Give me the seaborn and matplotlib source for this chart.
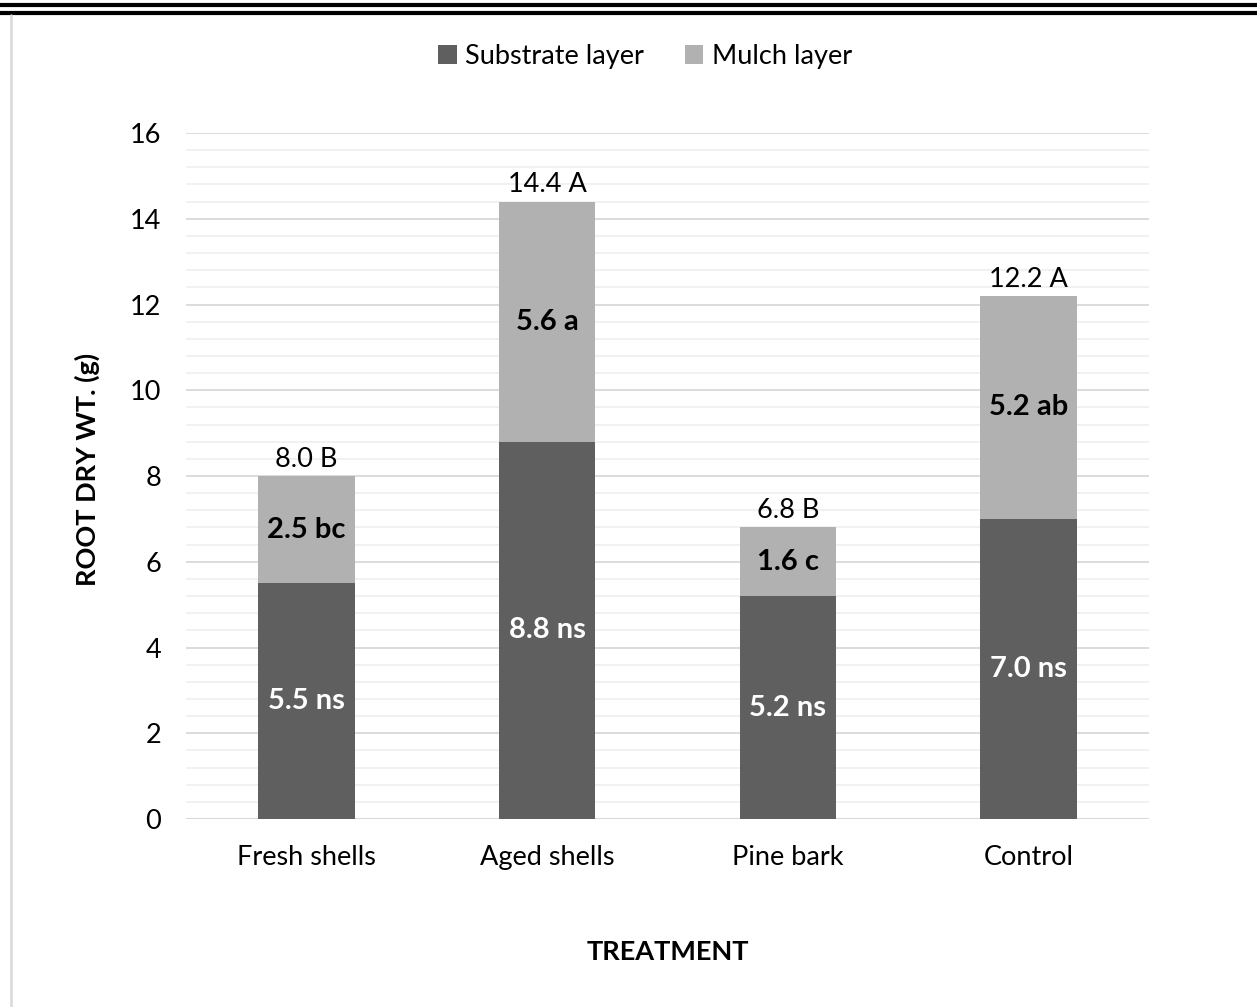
import matplotlib
matplotlib.use("Agg")
import matplotlib.pyplot as plt
from matplotlib.lines import Line2D
from matplotlib.patches import Patch
from matplotlib.ticker import MultipleLocator
import seaborn as sns
import pandas as pd

treatments = ["Fresh shells", "Aged shells", "Pine bark", "Control"]
substrate = [5.5, 8.8, 5.2, 7.0]
mulch = [2.5, 5.6, 1.6, 5.2]
totals = [8.0, 14.4, 6.8, 12.2]
substrate_labels = ["5.5 ns", "8.8 ns", "5.2 ns", "7.0 ns"]
mulch_labels = ["2.5 bc", "5.6 a", "1.6 c", "5.2 ab"]
total_labels = ["8.0 B", "14.4 A", "6.8 B", "12.2 A"]

dark = "#5f5f5f"
light = "#b1b1b1"

sns.set_theme(style="white")
plt.rcParams["font.family"] = ["Lato", "DejaVu Sans"]
plt.rcParams["text.color"] = "black"
plt.rcParams["axes.labelcolor"] = "black"

df = pd.DataFrame({"treatment": treatments, "substrate": substrate,
                   "mulch": mulch, "total": totals})

fig = plt.figure(figsize=(12.57, 10.07), dpi=100)
ax = fig.add_axes([0.148, 0.1867, 0.766, 0.6812])

# full stack height in the mulch colour, substrate drawn over it
sns.barplot(data=df, x="treatment", y="total", color=light, width=0.4,
            saturation=1, linewidth=0, ax=ax, zorder=3)
sns.barplot(data=df, x="treatment", y="substrate", color=dark, width=0.4,
            saturation=1, linewidth=0, ax=ax, zorder=4)

ax.set_xlim(-0.5, 3.5)
ax.set_ylim(0, 16)
ax.yaxis.set_major_locator(MultipleLocator(2))
ax.yaxis.set_minor_locator(MultipleLocator(0.4))
ax.grid(axis="y", which="major", color="#d9d9d9", linewidth=1.3, zorder=0)
ax.grid(axis="y", which="minor", color="#f0f0f0", linewidth=1.3, zorder=0)
ax.set_axisbelow(True)
for s in ax.spines.values():
    s.set_visible(False)
ax.axhline(0, color="#d9d9d9", linewidth=1.5, zorder=1)
ax.tick_params(axis="both", which="both", length=0, labelsize=19.5, colors="black")
ax.tick_params(axis="y", pad=18)
ax.tick_params(axis="x", pad=19)

ax.set_xlabel("TREATMENT", fontsize=19.5, fontweight="bold", color="black")
ax.set_ylabel("ROOT DRY WT. (g)", fontsize=19.5, fontweight="bold", color="black")
ax.xaxis.set_label_coords(0.5, -0.176)
ax.yaxis.set_label_coords(-0.089, 0.51)

for i in range(len(treatments)):
    ax.text(i, substrate[i] / 2, substrate_labels[i], ha="center", va="center",
            color="white", fontsize=21, fontweight="bold", zorder=5)
    ax.text(i, substrate[i] + mulch[i] / 2, mulch_labels[i], ha="center",
            va="center", color="black", fontsize=21, fontweight="bold", zorder=5)
    ax.annotate(total_labels[i], (i, totals[i]), xytext=(0, 3),
                textcoords="offset points", ha="center", va="bottom",
                fontsize=19.5, color="black", zorder=5)

handles = [Patch(facecolor=dark, edgecolor="none"),
           Patch(facecolor=light, edgecolor="none")]
fig.legend(handles, ["Substrate layer", "Mulch layer"], loc="center",
           bbox_to_anchor=(0.513, 0.944), ncol=2, frameon=False, fontsize=19.5,
           handlelength=0.7, handleheight=0.7, handletextpad=0.3,
           columnspacing=1.5, labelcolor="black")

# page rules and frame edge
fig.add_artist(Line2D([0, 1], [1 - 5 / 1007, 1 - 5 / 1007], color="black",
                      linewidth=3, transform=fig.transFigure))
fig.add_artist(Line2D([0, 1], [1 - 13 / 1007, 1 - 13 / 1007], color="black",
                      linewidth=3, transform=fig.transFigure))
fig.add_artist(Line2D([11 / 1257, 11 / 1257], [0, 1 - 15 / 1007],
                      color="#d9d9d9", linewidth=1.8, transform=fig.transFigure))

fig.savefig("out.png", dpi=100)
